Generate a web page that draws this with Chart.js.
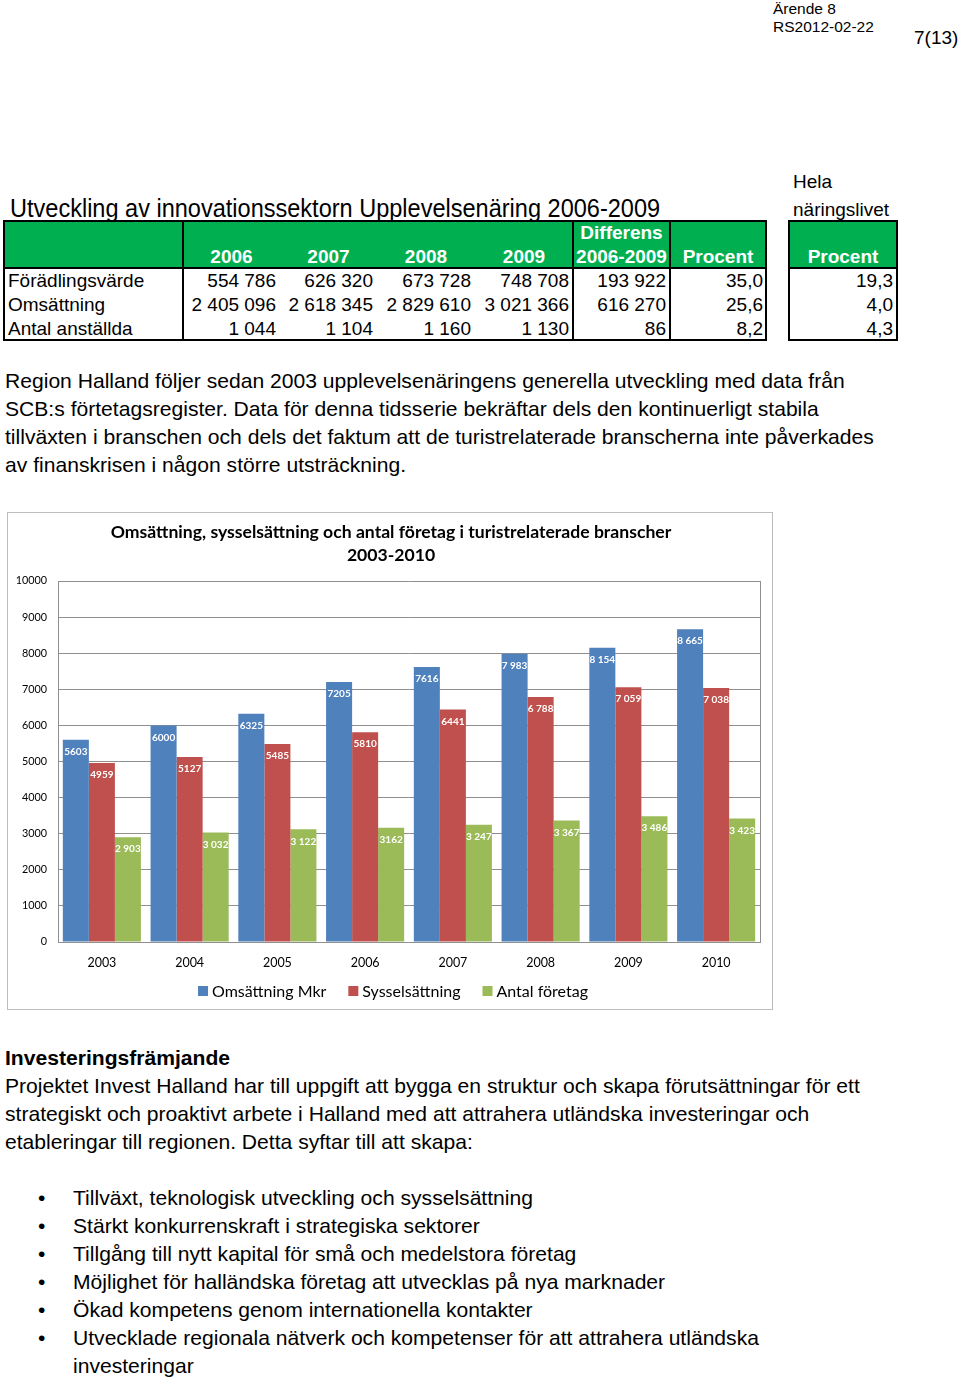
<!DOCTYPE html>
<html>
<head>
<meta charset="utf-8">
<script src="https://cdn.jsdelivr.net/npm/chart.js@4"></script>
<style>
  html, body { margin: 0; padding: 0; background: #fff; }
  body { width: 960px; height: 1380px; position: relative; overflow: hidden; font-family: "Liberation Sans", Arial, sans-serif; color: #000; }
  .t { position: absolute; white-space: nowrap; }
  .p { font-size: 21.1px; line-height: 28px; height: 28px; }
  .cell { position: absolute; white-space: nowrap; font-size: 19px; line-height: 24px; height: 24px; }
  .hd { color: #fff; font-weight: bold; text-align: center; }
  .ln { position: absolute; background: #000; }
  #chartBox { position: absolute; left: 7px; top: 512px; width: 766px; height: 498px; border: 1px solid #bdbdbd; box-sizing: border-box; }
  #chartBox canvas { position: absolute; left: 0; top: 0; }
</style>
</head>
<body>
<div class="t" style="left:773px; top:0px; font-size:15.5px; line-height:18px;">Ärende 8</div>
<div class="t" style="left:773px; top:18px; font-size:15.5px; line-height:18px;">RS2012-02-22</div>
<div class="t" style="left:914px; top:27px; font-size:19px; line-height:22px;">7(13)</div>

<div class="t" style="left:793px; top:170px; font-size:19px; line-height:24px;">Hela</div>
<div class="t" style="left:793px; top:198px; font-size:19px; line-height:24px;">näringslivet</div>
<div class="t" id="mainTitle" style="left:10px; top:193px; font-size:26px; line-height:30px; transform:scaleX(0.905); transform-origin:0 0;">Utveckling av innovationssektorn Upplevelsenäring 2006-2009</div>

<div id="tbl"></div>

<div class="t p" style="left:5px; top:367px;">Region Halland följer sedan 2003 upplevelsenäringens generella utveckling med data från</div>
<div class="t p" style="left:5px; top:395px;">SCB:s förtetagsregister. Data för denna tidsserie bekräftar dels den kontinuerligt stabila</div>
<div class="t p" style="left:5px; top:423px;">tillväxten i branschen och dels det faktum att de turistrelaterade branscherna inte påverkades</div>
<div class="t p" style="left:5px; top:451px;">av finanskrisen i någon större utsträckning.</div>

<div id="chartBox"><canvas id="c" width="764" height="496"></canvas></div>

<div class="t p" style="left:5px; top:1044px; font-weight:bold;">Investeringsfrämjande</div>
<div class="t p" style="left:5px; top:1072px;">Projektet Invest Halland har till uppgift att bygga en struktur och skapa förutsättningar för ett</div>
<div class="t p" style="left:5px; top:1100px;">strategiskt och proaktivt arbete i Halland med att attrahera utländska investeringar och</div>
<div class="t p" style="left:5px; top:1128px;">etableringar till regionen. Detta syftar till att skapa:</div>

<div id="bullets"></div>

<script>
// ---------- Table data ----------
const tableYears = ['2006', '2007', '2008', '2009'];
const rowNames = ['Förädlingsvärde', 'Omsättning', 'Antal anställda'];
const rowValues = [
  ['554 786', '626 320', '673 728', '748 708'],
  ['2 405 096', '2 618 345', '2 829 610', '3 021 366'],
  ['1 044', '1 104', '1 160', '1 130']
];
const rowDiff = ['193 922', '616 270', '86'];
const rowPct = ['35,0', '25,6', '8,2'];
const rowPctAll = ['19,3', '4,0', '4,3'];

// ---------- Bullet list ----------
const bulletItems = [
  'Tillväxt, teknologisk utveckling och sysselsättning',
  'Stärkt konkurrenskraft i strategiska sektorer',
  'Tillgång till nytt kapital för små och medelstora företag',
  'Möjlighet för halländska företag att utvecklas på nya marknader',
  'Ökad kompetens genom internationella kontakter',
  'Utvecklade regionala nätverk och kompetenser för att attrahera utländska'
];
const bulletContinuation = 'investeringar';

// ---------- Chart data ----------
const years = ['2003', '2004', '2005', '2006', '2007', '2008', '2009', '2010'];
const omsattningMkr = [5603, 6000, 6325, 7205, 7616, 7983, 8154, 8665];
const sysselsattning = [4959, 5127, 5485, 5810, 6441, 6788, 7059, 7038];
const antalForetag = [2903, 3032, 3122, 3162, 3247, 3367, 3486, 3423];
const omsattningLabels = ['5603', '6000', '6325', '7205', '7616', '7 983', '8 154', '8 665'];
const sysselsattningLabels = ['4959', '5127', '5485', '5810', '6441', '6 788', '7 059', '7 038'];
const antalForetagLabels = ['2 903', '3 032', '3 122', '3162', '3 247', '3 367', '3 486', '3 423'];
const seriesNames = ['Omsättning Mkr', 'Sysselsättning', 'Antal företag'];
const chartTitleLines = ['Omsättning, sysselsättning och antal företag i turistrelaterade branscher', '2003-2010'];
const yMin = 0, yMax = 10000, yStep = 1000;

// ---------- Build table ----------
(function () {
  const t = document.getElementById('tbl');
  const green = '#00b050';
  function div(style, text, cls) {
    const d = document.createElement('div');
    if (cls) d.className = cls;
    d.style.cssText = style;
    if (text !== undefined) d.textContent = text;
    t.appendChild(d);
    return d;
  }
  div('position:absolute;left:4px;top:221px;width:762px;height:47px;background:' + green + ';');
  div('position:absolute;left:789px;top:221px;width:108px;height:47px;background:' + green + ';');
  div('position:absolute;left:3px;top:220px;width:764px;height:121px;border:2px solid #000;box-sizing:border-box;');
  div('position:absolute;left:788px;top:220px;width:110px;height:121px;border:2px solid #000;box-sizing:border-box;');
  [183, 573, 670].forEach(x => div('left:' + (x - 1) + 'px;top:221px;width:2px;height:119px;', undefined, 'ln'));
  div('left:4px;top:267px;width:762px;height:2px;', undefined, 'ln');
  div('left:789px;top:267px;width:108px;height:2px;', undefined, 'ln');

  const colEdges = [183, 280, 377, 475, 573];
  tableYears.forEach((y, i) => {
    div('left:' + colEdges[i] + 'px;top:245px;width:' + (colEdges[i + 1] - colEdges[i]) + 'px;', y, 'cell hd');
  });
  div('left:573px;top:221px;width:97px;', 'Differens', 'cell hd');
  div('left:573px;top:245px;width:97px;', '2006-2009', 'cell hd');
  div('left:670px;top:245px;width:96px;', 'Procent', 'cell hd');
  div('left:789px;top:245px;width:108px;', 'Procent', 'cell hd');
  rowNames.forEach((name, r) => {
    const top = 269 + r * 24;
    div('left:8px;top:' + top + 'px;', name, 'cell');
    rowValues[r].forEach((v, i) => {
      div('left:' + colEdges[i] + 'px;top:' + top + 'px;width:' + (colEdges[i + 1] - colEdges[i] - 4) + 'px;text-align:right;', v, 'cell');
    });
    div('left:573px;top:' + top + 'px;width:93px;text-align:right;', rowDiff[r], 'cell');
    div('left:670px;top:' + top + 'px;width:93px;text-align:right;', rowPct[r], 'cell');
    div('left:789px;top:' + top + 'px;width:104px;text-align:right;', rowPctAll[r], 'cell');
  });
})();

// ---------- Build bullets ----------
(function () {
  const b = document.getElementById('bullets');
  bulletItems.forEach((txt, i) => {
    const top = 1184 + i * 28;
    const dot = document.createElement('div');
    dot.className = 't p';
    dot.style.cssText = 'left:38px;top:' + top + 'px;';
    dot.textContent = '•';
    b.appendChild(dot);
    const d = document.createElement('div');
    d.className = 't p';
    d.style.cssText = 'left:73px;top:' + top + 'px;';
    d.textContent = txt;
    b.appendChild(d);
  });
  const c = document.createElement('div');
  c.className = 't p';
  c.style.cssText = 'left:73px;top:' + (1184 + bulletItems.length * 28) + 'px;';
  c.textContent = bulletContinuation;
  b.appendChild(c);
})();

// ---------- Chart ----------
const seriesColors = ['#4f81bd', '#c0504d', '#9bbb59'];
const labelSets = [omsattningLabels, sysselsattningLabels, antalForetagLabels];
const FONT = 'Lato, "Open Sans", sans-serif';

const plotFrame = {
  id: 'plotFrame',
  beforeDatasetsDraw(chart) {
    const a = chart.chartArea, ctx = chart.ctx;
    ctx.save();
    ctx.strokeStyle = '#8f8f8f';
    ctx.lineWidth = 1;
    ctx.beginPath();
    ctx.moveTo(Math.round(a.right) + 0.5, a.top);
    ctx.lineTo(Math.round(a.right) + 0.5, a.bottom);
    ctx.stroke();
    ctx.restore();
  }
};

const valueLabels = {
  id: 'valueLabels',
  afterDatasetsDraw(chart) {
    const ctx = chart.ctx;
    ctx.save();
    ctx.font = 'bold 10px ' + FONT;
    ctx.fillStyle = '#ffffff';
    ctx.textAlign = 'center';
    ctx.textBaseline = 'middle';
    chart.data.datasets.forEach((ds, i) => {
      const meta = chart.getDatasetMeta(i);
      meta.data.forEach((bar, j) => {
        ctx.fillText(labelSets[i][j], bar.x, bar.y + 12);
      });
    });
    ctx.restore();
  }
};

const titleAndLegend = {
  id: 'titleAndLegend',
  afterDraw(chart) {
    const ctx = chart.ctx;
    const w = chart.width;
    ctx.save();
    ctx.fillStyle = '#000';
    ctx.textAlign = 'center';
    ctx.textBaseline = 'middle';
    ctx.font = 'bold 17.6px ' + FONT;
    ctx.fillText(chartTitleLines[0], w / 2 + 1, 19);
    ctx.fillText(chartTitleLines[1], w / 2 + 1, 42);
    ctx.font = '16px ' + FONT;
    const box = 10, gapBoxText = 4, gapItems = 22;
    const widths = seriesNames.map(n => ctx.measureText(n).width);
    const total = widths.reduce((s, x) => s + box + gapBoxText + x, 0) + gapItems * (seriesNames.length - 1);
    let x = w / 2 + 3 - total / 2;
    const y = 478;
    ctx.textAlign = 'left';
    seriesNames.forEach((n, i) => {
      ctx.fillStyle = seriesColors[i];
      ctx.fillRect(x, y - box / 2, box, box);
      ctx.fillStyle = '#000';
      ctx.fillText(n, x + box + gapBoxText, y + 1);
      x += box + gapBoxText + widths[i] + gapItems;
    });
    ctx.restore();
  }
};

new Chart(document.getElementById('c'), {
  type: 'bar',
  data: {
    labels: years,
    datasets: [
      { label: seriesNames[0], data: omsattningMkr, backgroundColor: seriesColors[0] },
      { label: seriesNames[1], data: sysselsattning, backgroundColor: seriesColors[1] },
      { label: seriesNames[2], data: antalForetag, backgroundColor: seriesColors[2] }
    ]
  },
  options: {
    responsive: false,
    animation: false,
    devicePixelRatio: 1,
    layout: { padding: { top: 68, right: 12, bottom: 27, left: 0 } },
    datasets: { bar: { categoryPercentage: 0.89, barPercentage: 1.0 } },
    plugins: { legend: { display: false }, title: { display: false }, tooltip: { enabled: false } },
    scales: {
      x: {
        afterFit(s) { s.height = 40; },
        grid: { display: false, drawTicks: false },
        border: { display: true, color: '#8f8f8f' },
        ticks: { color: '#000', font: { family: FONT, size: 12.5 }, padding: 13 }
      },
      y: {
        min: yMin, max: yMax,
        afterFit(s) { s.width = 50; },
        grid: { color: '#8f8f8f', drawTicks: false },
        border: { display: true, color: '#8f8f8f' },
        ticks: { stepSize: yStep, color: '#000', font: { family: FONT, size: 10.8 }, padding: 11, callback: v => String(v) }
      }
    }
  },
  plugins: [plotFrame, valueLabels, titleAndLegend]
});
</script>
</body>
</html>
